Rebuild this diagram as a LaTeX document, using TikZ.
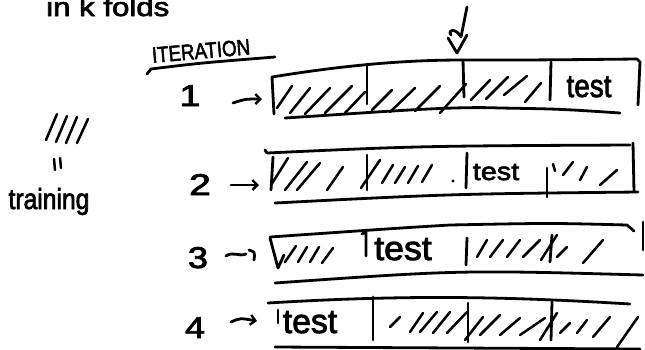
\documentclass[tikz,border=0pt]{standalone}
\usepackage{fontspec}
\setmainfont{Liberation Sans}
\newfontfamily\markerfont{Liberation Sans}[FakeBold=2.5]
\usetikzlibrary{arrows.meta}
% hand-lettered text: size, horizontal stretch, text
\newcommand\handtext[3]{\scalebox{#2}[1]{\fontsize{#1}{#1}\markerfont #3}}
\begin{document}
\begin{tikzpicture}[x=1pt,y=-1pt,
  pen/.style={line width=2.8pt,line cap=round,line join=round},
  hatch/.style={line width=2.5pt,line cap=round},
  lbl/.style={inner sep=0pt},
  arr/.style={pen,-{Straight Barb[length=5pt,width=10pt,line width=2.4pt]}}]
\useasboundingbox (0,0) rectangle (645,349);

% heading, partly above the top edge
\node[lbl,anchor=base west] (title) at (46,16) {\handtext{26}{1.2}{in k folds}};

% pointer to a fold boundary
\coordinate (ptop) at (467,7);
\coordinate (ptip) at (457,53);
\draw[pen] (ptop) -- (461,37) .. controls (456,28) and (447,29) .. (451,35);
\draw[pen] (448,38) -- (ptip) -- (467,35);

% column caption
\node[lbl,rotate=5] (iter) at (201,51) {\handtext{22}{0.85}{ITERATION}};
\draw[pen] (147,74) -- (151,69) .. controls (200,63) .. (275,57);

% legend: hatching = training
\foreach \a/\b/\c/\d in {46/140/57/114, 56/142/67/116, 66/143/77/117, 77/143/88/119}
  \draw[hatch] (\a,\b) -- (\c,\d);
\draw[hatch] (54,159) -- (55,170);
\draw[hatch] (60,158) -- (61,168);
\node[lbl,anchor=base] (train) at (49,209) {\handtext{29}{0.85}{training}};

% iteration numbers
\node[lbl,anchor=base] (n1) at (190,106) {\handtext{30}{1.25}{1}};
\node[lbl,anchor=base] (n2) at (200,195) {\handtext{30}{1.3}{2}};
\node[lbl,anchor=base] (n3) at (198,268) {\handtext{30}{1.2}{3}};
\node[lbl,anchor=base] (n4) at (195,338) {\handtext{30}{1.2}{4}};

\coordinate (a1) at (233,103);
\coordinate (b1) at (262,99);
\coordinate (a2) at (231,185);
\coordinate (b2) at (259,185);
\coordinate (a3) at (226,256);
\coordinate (b3) at (246,254);
\coordinate (a4) at (231,322);
\coordinate (b4) at (257,321);
\draw[arr] (a1) .. controls (245,99) .. (b1);
\draw[arr] (a2) -- (b2);
\draw[pen] (a3) .. controls (233,251) and (239,257) .. (b3);
\draw[pen] (249,250) .. controls (255,252) .. (254,260);
\draw[arr] (a4) .. controls (240,318) .. (b4);

% ---------- fold strip 1 ----------
\draw[pen] (272,77) .. controls (340,66) and (400,60) .. (463,60) .. controls (540,60) .. (637,59) -- (640,62) -- (638,105);
\draw[pen] (272,77) -- (274,114);
\draw[pen] (285,118) .. controls (380,112) and (450,106) .. (500,108) .. controls (560,109) .. (620,113);
\draw[pen] (367,64) -- (367,104);
\draw[pen] (463,60) -- (464,97);
\draw[pen] (551,62) -- (550,100);
\foreach \a/\b/\c/\d in {277/108/292/86, 290/113/310/88, 305/114/330/88, 325/113/352/86, 345/113/365/92,
  372/110/392/90, 390/112/415/88, 415/111/440/86, 440/113/466/84,
  471/100/490/80, 486/99/508/77, 504/95/527/76, 525/102/541/83}
  \draw[hatch] (\a,\b) -- (\c,\d);
\node[lbl,anchor=base] (t1) at (589,97) {\handtext{32}{0.87}{test}};

% ---------- fold strip 2 ----------
\draw[pen] (265,150) -- (267,153) .. controls (420,146) .. (630,145);
\draw[pen] (273,157) -- (271,190);
\draw[pen] (633,143) -- (634,192);
\draw[pen] (275,203) .. controls (450,194) .. (638,192);
\draw[pen] (367,155) -- (367,190);
\draw[pen] (467,153) -- (466,188);
\draw[pen] (547,168) -- (547,197);
\foreach \a/\b/\c/\d in {271/185/288/158, 285/190/307/162, 297/190/320/163, 327/190/343/167, 361/188/380/160,
  382/183/393/165, 395/183/405/167, 408/183/418/166, 422/182/432/165,
  553/164/555/171, 563/175/573/162, 580/180/587/167, 600/185/617/170}
  \draw[hatch] (\a,\b) -- (\c,\d);
\fill (453,181) circle (1.6pt);
\node[lbl,anchor=base] (t2) at (496,180) {\handtext{25}{1.15}{test}};

% ---------- fold strip 3 ----------
\draw[pen] (270,237) .. controls (400,228) .. (450,225) .. controls (550,223) .. (627,225) -- (634,231);
\draw[pen] (270,238) -- (278,268) -- (284,255);
\draw[pen] (643,222) -- (643,250);
\draw[pen] (275,283) .. controls (460,270) .. (643,275);
\draw[pen] (362,234) -- (366,232) -- (366,256);
\draw[pen] (467,238) -- (466,265);
\draw[pen] (552,235) -- (550,262);
\foreach \a/\b/\c/\d in {285/262/296/246, 298/262/307/247, 310/262/319/247, 322/263/333/248,
  477/257/487/240, 490/257/503/240, 507/257/520/240, 523/257/540/240, 541/260/557/235,
  557/257/567/247, 583/263/603/240}
  \draw[hatch] (\a,\b) -- (\c,\d);
\node[lbl,anchor=base] (t3) at (403,260) {\handtext{34}{1.05}{test}};

% ---------- fold strip 4 ----------
\draw[pen] (268,303) .. controls (400,295) and (500,296) .. (630,304);
\draw[pen] (278,310) -- (278,323);
\draw[pen] (275,347) -- (640,349);
\draw[pen] (373,297) -- (373,340);
\draw[pen] (468,303) -- (468,342);
\draw[pen] (552,302) -- (551,340);
\foreach \a/\b/\c/\d in {390/327/400/317, 410/332/423/313, 420/332/437/312, 433/333/450/312, 447/333/467/312,
  465/340/483/317, 480/335/500/315, 500/335/520/318, 520/335/545/318,
  540/340/557/313, 560/333/570/323, 577/333/587/320, 593/337/610/317, 617/347/638/317}
  \draw[hatch] (\a,\b) -- (\c,\d);
\node[lbl,anchor=base] (t4) at (310,333) {\handtext{34}{0.99}{test}};
\end{tikzpicture}
\end{document}
